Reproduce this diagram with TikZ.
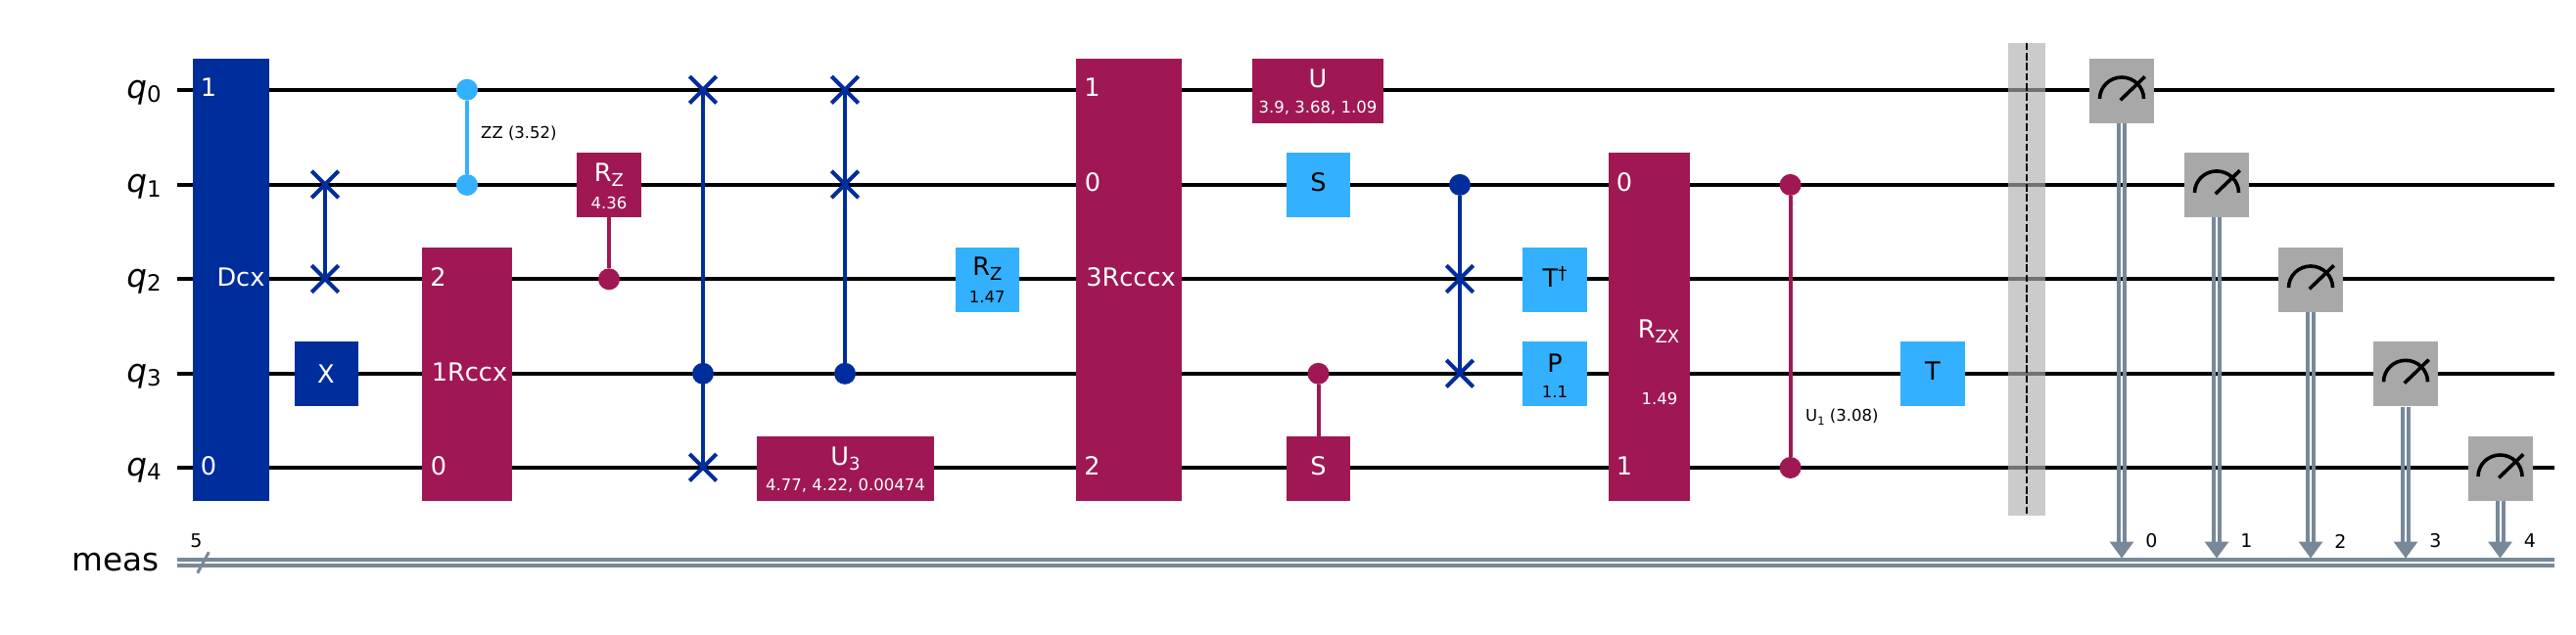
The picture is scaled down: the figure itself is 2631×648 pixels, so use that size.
\documentclass[tikz,border=0pt]{standalone}
\usepackage{fontspec}
\setmainfont{DejaVu Sans}
\definecolor{dblue}{HTML}{002D9C}
\definecolor{pink}{HTML}{9F1853}
\definecolor{lblue}{HTML}{33B1FF}
\definecolor{mgray}{HTML}{A8A8A8}
\definecolor{creg}{HTML}{778899}
\definecolor{barr}{HTML}{B0B0B0}
\newcommand{\gfont}{\fontsize{25.6}{28}\selectfont}
\newcommand{\pfont}{\fontsize{16.5}{18}\selectfont}
\newcommand{\lfont}{\fontsize{32.7}{36}\selectfont}
\newcommand{\nfont}{\fontsize{19}{20}\selectfont}
\newcommand{\subs}[1]{\raisebox{-5pt}{\fontsize{18}{20}\selectfont #1}}
\newcommand{\lsub}[1]{\raisebox{-4.5pt}{\fontsize{22.9}{24}\selectfont #1}}
\tikzset{
  x=1pt,y=-1pt,
  wire/.style={line width=4pt,black},
  cbit/.style={line width=4pt,creg},
  gatebox/.style={rectangle,inner sep=0pt,minimum height=66pt,draw=none},
  tall/.style={gatebox,minimum height=452pt},
  txt/.style={inner sep=0pt,text=white,font=\gfont},
  btxt/.style={inner sep=0pt,text=black,font=\gfont},
  par/.style={inner sep=0pt,text=white,font=\pfont},
  bpar/.style={inner sep=0pt,text=black,font=\pfont},
  small/.style={inner sep=0pt,text=black,font=\pfont},
  reg/.style={inner sep=0pt,anchor=base east,text=black,font=\lfont},
  num/.style={inner sep=0pt,text=black,font=\nfont},
  dotc/.style={circle,inner sep=0pt,minimum size=22pt},
  conn/.style={line width=4pt},
  meter/.style={gatebox,fill=mgray,minimum width=66pt},
}
\newcommand{\swapx}[3]{% name, x, y
  \coordinate (#1) at (#2,#3);
  \draw[conn,dblue] ([shift={(-13.7,-13.7)}]#1) -- ([shift={(13.7,13.7)}]#1);
  \draw[conn,dblue] ([shift={(-13.7,13.7)}]#1) -- ([shift={(13.7,-13.7)}]#1);
}
\newcommand{\measure}[3]{% name, x, y
  \node[meter] (#1) at (#2,#3) {};
  \draw[line width=3.6pt,black] ([shift={(-22.5,8)}]#1.center) arc[start angle=180,end angle=360,x radius=22.5,y radius=22];
  \draw[line width=3.6pt,black] ([shift={(-1.3,9.3)}]#1.center) -- ([shift={(23.7,-14.7)}]#1.center);
}
\newcommand{\mconn}[3]{% meter, label, index
  \coordinate (t#1) at (#1.south);
  \coordinate (b#1) at (t#1 |- mtop);
  \draw[cbit] ([xshift=-3pt]t#1) -- ([xshift=-3pt,yshift=16pt]b#1);
  \draw[cbit] ([xshift=3pt]t#1) -- ([xshift=3pt,yshift=16pt]b#1);
  \fill[creg] ([yshift=17pt,xshift=-12.5pt]b#1) -- ([yshift=17pt,xshift=12.5pt]b#1) -- (b#1) -- cycle;
  \node[num] (#2) at ([xshift=30.5pt,yshift=17.5pt]b#1) {#3};
}
\begin{document}
\begin{tikzpicture}
\useasboundingbox (0,0) rectangle (2631,648);
\fill[white] (0,0) rectangle (2631,648);
% register labels
\node[reg] (l0) at (165,100) {\textit{q}\lsub{0}};
\node[reg] (l1) at (165,196.8) {\textit{q}\lsub{1}};
\node[reg] (l2) at (165,293.3) {\textit{q}\lsub{2}};
\node[reg] (l3) at (165,390.1) {\textit{q}\lsub{3}};
\node[reg] (l4) at (165,486) {\textit{q}\lsub{4}};
\node[reg] (lm) at (162.7,583.5) {meas};
% wire ends
\foreach \i/\y in {0/91.7,1/188.5,2/285,3/381.8,4/477.7}{
  \coordinate (s\i) at (181,\y);
  \coordinate (e\i) at (2609,\y);
  \draw[wire] (s\i) -- (e\i);
}
\coordinate (cs) at (181,575);
\coordinate (ce) at (2609,575);
\coordinate (mtop) at (0,570.5);
\draw[cbit] ([yshift=-3pt]cs) -- ([yshift=-3pt]ce);
\draw[cbit] ([yshift=3pt]cs) -- ([yshift=3pt]ce);
\coordinate (sl1) at (201.7,585.7);
\coordinate (sl2) at (213.3,564.3);
\draw[creg,line width=3pt] (sl1) -- (sl2);
\node[num] (five) at (200.5,553) {5};
% Dcx
\node[tall,fill=dblue,minimum width=78pt] (dcx) at (236,286) {};
\node[txt] (dcx0) at (213,89.5) {1};
\node[txt] (dcx1) at (246,283) {Dcx};
\node[txt] (dcx2) at (213,476) {0};
% swap q1 q2
\swapx{sa}{332}{188.5}\swapx{sb}{332}{285}
\draw[conn,dblue] (sa) -- (sb);
% X
\node[gatebox,fill=dblue,minimum width=65pt] (xg) at (333,382.3) {};
\node[txt] at (xg.center) {X};
% ZZ
\node[dotc,fill=lblue] (zz0) at (477,91.7) {};
\node[dotc,fill=lblue] (zz1) at (477,189) {};
\draw[conn,lblue] (zz0) -- (zz1);
\node[small,anchor=west] (zzl) at (491,136) {ZZ (3.52)};
% Rccx
\node[tall,fill=pink,minimum width=92pt,minimum height=259pt] (rccx) at (477,382.5) {};
\node[txt] at (447.5,283) {2};
\node[txt] at (479.5,380) {1Rccx};
\node[txt] at (448,476) {0};
% Rz 4.36
\node[gatebox,fill=pink,minimum width=66pt] (rz) at (622,188.9) {};
\node[dotc,fill=pink] (rzc) at (622,285.3) {};
\draw[conn,pink] (rz) -- (rzc);
\node[txt] at (622,179) {R\subs{Z}};
\node[par] at (622,207) {4.36};
% Swaps
\node[dotc,fill=dblue] (c1) at (718,381.8) {};
\swapx{sc}{718}{91.7}\swapx{sd}{718}{477.7}
\draw[conn,dblue] (sc) -- (sd);
\node[dotc,fill=dblue] (c2) at (863,381.8) {};
\swapx{se}{863}{91.7}\swapx{sf}{863}{188.5}
\draw[conn,dblue] (se) -- (c2);
% U3
\node[gatebox,fill=pink,minimum width=181pt] (u3) at (863.5,479) {};
\node[txt] at (863.5,469) {U\subs{3}};
\node[par] at (863.5,496.5) {4.77, 4.22, 0.00474};
% Rz 1.47
\node[gatebox,fill=lblue,minimum width=65pt] (rz2) at (1008.3,286) {};
\node[btxt] at (1008.3,275) {R\subs{Z}};
\node[bpar] at (1008.3,303) {1.47};
% Rcccx
\node[tall,fill=pink,minimum width=108pt] (rc) at (1153,286) {};
\node[txt] at (1115.5,89.5) {1};
\node[txt] at (1116,186.5) {0};
\node[txt] at (1155,283) {3Rcccx};
\node[txt] at (1115.5,476) {2};
% U
\node[gatebox,fill=pink,minimum width=134pt] (u) at (1346,93) {};
\node[txt] at (1346,80) {U};
\node[par] at (1346,110) {3.9, 3.68, 1.09};
% S light
\node[gatebox,fill=lblue,minimum width=65pt] (s) at (1346.5,188.9) {};
\node[btxt] at (1346.5,186.5) {S};
% CS
\node[gatebox,fill=pink,minimum width=65pt] (s2) at (1346.5,479) {};
\node[txt] at (1346.5,476.5) {S};
\node[dotc,fill=pink] (sc2) at (1346.5,381.8) {};
\draw[conn,pink] (sc2) -- (s2);
% CSwap
\node[dotc,fill=dblue] (c3) at (1491,188.9) {};
\swapx{sg}{1491}{285}\swapx{sh}{1491}{381.8}
\draw[conn,dblue] (c3) -- (sh);
% Tdg, P
\node[gatebox,fill=lblue,minimum width=66pt] (td) at (1588,286) {};
\node[btxt] at (1588,283) {T\raisebox{8pt}{\fontsize{18}{20}\selectfont †}};
\node[gatebox,fill=lblue,minimum width=66pt] (p) at (1588,382.3) {};
\node[btxt] at (1588,371) {P};
\node[bpar] at (1588,400) {1.1};
% Rzx
\node[tall,fill=pink,minimum width=83pt,minimum height=356.5pt] (rzx) at (1684.5,334) {};
\node[txt] at (1659,186.5) {0};
\node[txt] at (1659,476) {1};
\node[txt] at (1694,339) {R\subs{ZX}};
\node[par] at (1695,407) {1.49};
% CU1
\node[dotc,fill=pink] (u0) at (1828.6,188.9) {};
\node[dotc,fill=pink] (u1) at (1828.6,478) {};
\draw[conn,pink] (u0) -- (u1);
\node[small,anchor=west] (ul) at (1844,426) {U\raisebox{-4pt}{\fontsize{11.5}{12}\selectfont 1} (3.08)};
% T
\node[gatebox,fill=lblue,minimum width=66pt] (tg) at (1974,382.3) {};
\node[btxt] at (1974,379) {T};
% Barrier
\node[rectangle,inner sep=0pt,minimum width=38pt,minimum height=483pt,fill=barr,opacity=.65] (bar) at (2070,285.5) {};
\draw[black,line width=2pt,dash pattern=on 7.5pt off 2.8pt] (bar.north) -- (bar.south);
% Measures
\measure{m0}{2167}{93}
\measure{m1}{2264}{188.9}
\measure{m2}{2360}{286}
\measure{m3}{2457}{382.3}
\measure{m4}{2553.5}{479}
\mconn{m0}{n0}{0}
\mconn{m1}{n1}{1}
\mconn{m2}{n2}{2}
\mconn{m3}{n3}{3}
\mconn{m4}{n4}{4}
\end{tikzpicture}
\end{document}
